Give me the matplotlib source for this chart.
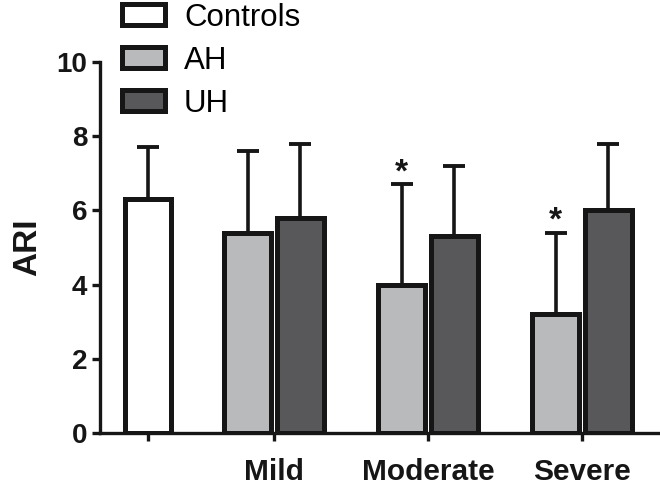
import matplotlib
matplotlib.use("Agg")
import matplotlib.pyplot as plt
from matplotlib.patches import Patch
import numpy as np

plt.rcParams['font.family'] = ['Liberation Sans', 'DejaVu Sans']

groups = ["Mild", "Moderate", "Severe"]
control_mean = 6.3
control_err = 1.4
ah_mean = [5.4, 4.0, 3.2]
ah_err = [2.2, 2.7, 2.2]
uh_mean = [5.8, 5.3, 6.0]
uh_err = [2.0, 1.9, 1.8]
significant_ah = [False, True, True]
legend_labels = ["Controls", "AH", "UH"]
yticks = [0, 2, 4, 6, 8, 10]

c_ctrl = "#ffffff"
c_ah = "#b9babc"
c_uh = "#58585a"
edge = "#161616"

fig = plt.figure(figsize=(6.6, 4.9), dpi=100)
ax = fig.add_axes([100/660, 57/490, 560/660, 371/490])

pos = np.arange(1, len(groups) + 1)
w = 0.30
off = 0.172
ctrl_x = 1 - 126/154

bar_kw = dict(edgecolor=edge, linewidth=3.6, zorder=3)
err_kw = dict(ecolor=edge, elinewidth=2.6, capsize=8, capthick=2.8, zorder=2)

ax.bar([ctrl_x], [control_mean], w, color=c_ctrl,
       yerr=[[0], [control_err]], error_kw=err_kw, **bar_kw)
ax.bar(pos - off, ah_mean, w, color=c_ah,
       yerr=[[0]*3, ah_err], error_kw=err_kw, **bar_kw)
ax.bar(pos + off, uh_mean, w, color=c_uh,
       yerr=[[0]*3, uh_err], error_kw=err_kw, **bar_kw)

for x, m, e, s in zip(pos - off, ah_mean, ah_err, significant_ah):
    if s:
        ax.text(x, m + e - 0.1, "*", ha="center", va="bottom",
                fontsize=24, fontweight="bold", color=edge)

ax.set_xlim(1 - 174/154, 1 + 386/154)
ax.set_ylim(0, 10)
ax.set_yticks(yticks)
ax.set_xticks([ctrl_x] + list(pos))
ax.set_xticklabels([""] + groups)

for s in ["top", "right"]:
    ax.spines[s].set_visible(False)
for s in ["left", "bottom"]:
    ax.spines[s].set_linewidth(2.4)
    ax.spines[s].set_color(edge)

ax.tick_params(axis="both", width=2.4, length=6, color=edge)
ax.tick_params(axis="y", labelsize=20, pad=3)
ax.tick_params(axis="x", labelsize=21.5, pad=12)
for lab in ax.get_xticklabels() + ax.get_yticklabels():
    lab.set_fontweight("bold")
    lab.set_color(edge)

ax.set_ylabel("ARI", fontsize=24, fontweight="bold", color=edge, labelpad=10)

handles = [Patch(facecolor=c, edgecolor=edge, linewidth=3.6) for c in (c_ctrl, c_ah, c_uh)]
fig.legend(handles, legend_labels, loc="upper left", bbox_to_anchor=(119/660, 1.0),
           frameon=False, fontsize=22.5, handlelength=1.4, handleheight=0.65,
           handletextpad=0.6, labelspacing=0.42, borderpad=0.08, borderaxespad=0)

fig.savefig("out.png", dpi=100)
